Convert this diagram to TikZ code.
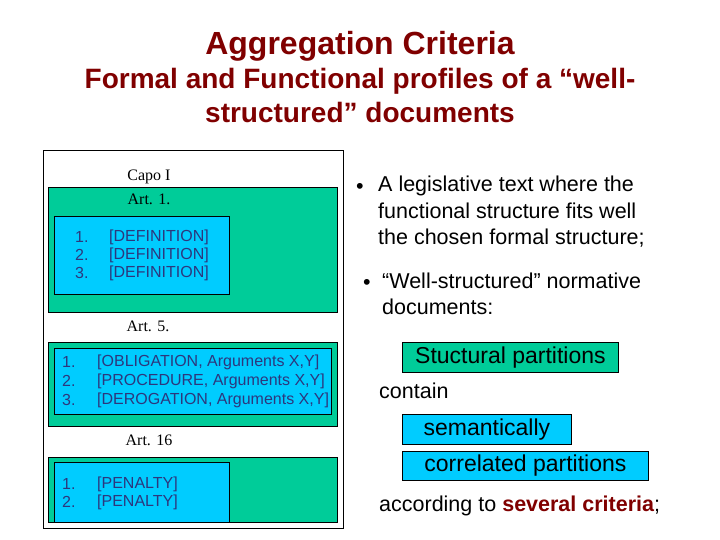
\documentclass[tikz,border=0pt]{standalone}
\usepackage{fontspec}
\setmainfont{Liberation Serif}
\setsansfont{Liberation Sans}
\usetikzlibrary{positioning}
\definecolor{titlered}{RGB}{128,0,0}
\definecolor{partgreen}{RGB}{0,204,153}
\definecolor{partblue}{RGB}{0,204,255}
\definecolor{itemblue}{RGB}{45,55,125}

\begin{document}
\begin{tikzpicture}[x=1pt,y=-1pt,
    part/.style={draw, line width=0.8pt, anchor=north west, inner sep=0pt},
    greenpart/.style={part, fill=partgreen},
    bluepart/.style={part, fill=partblue},
    item/.style={anchor=west, inner sep=0pt, text=itemblue,
      font=\sffamily\fontsize{16}{19}\selectfont},
    heading/.style={inner sep=0pt, font=\rmfamily\fontsize{16}{19}\selectfont},
    title/.style={inner sep=0pt, align=center, text=titlered},
    bodytext/.style={inner sep=0pt, font=\sffamily\fontsize{21.5}{26.5}\selectfont},
    tag/.style={draw, line width=0.8pt, anchor=north west, inner sep=0pt,
      font=\sffamily\fontsize{23}{26}\selectfont}]
  \useasboundingbox (0,0) rectangle (720,540);

  % title
  \node[title, font=\sffamily\bfseries\fontsize{32}{36}\selectfont] (title) at (360,46)
    {Aggregation Criteria};
  \node[title, font=\sffamily\bfseries\fontsize{28}{34}\selectfont] (subtitle) at (360,95.5)
    {Formal and Functional profiles of a “well-\\structured” documents};

  % document frame and partitions
  \node[part, line width=1pt, fill=white, minimum width=300, minimum height=378] (frame) at (43,150) {};
  \node[greenpart, minimum width=289, minimum height=125] (art1box) at (48,187) {};
  \node[bluepart, minimum width=175, minimum height=78] (def) at (54,216) {};
  \node[greenpart, minimum width=289, minimum height=84] (art5box) at (48,342) {};
  \node[bluepart, minimum width=277, minimum height=66] (args) at (54,348) {};
  \node[greenpart, minimum width=289, minimum height=65] (art16box) at (48,457) {};
  \node[bluepart, minimum width=175, minimum height=60] (pen) at (54,462) {};

  % headings
  \node[heading] (capo) at (149,177) {Capo I};
  \node[heading] (art1) at (149,199) {Art. 1.};
  \node[heading] (art5) at (148,326) {Art. 5.};
  \node[heading] (art16) at (149,440) {Art. 16};

  % items
  \foreach \n/\y in {1/237,2/255,3/273}
    {\node[item] (defnum\n) at (75,\y) {\n.}; \node[item] (def\n) at (109,\y) {[DEFINITION]};}
  \foreach \n/\y/\t in {1/362/OBLIGATION,2/381/PROCEDURE,3/400/DEROGATION}
    {\node[item] (argnum\n) at (62,\y) {\n.}; \node[item] (arg\n) at (97,\y) {[\t, Arguments X,Y]};}
  \foreach \n/\y in {1/484,2/502}
    {\node[item] (pennum\n) at (62,\y) {\n.}; \node[item] (pen\n) at (97,\y) {[PENALTY]};}

  % bullets
  \node[bodytext] (dot1) at (360,188) {•};
  \node[bodytext, anchor=north west, align=left] (legis) at (378,176)
    {A legislative text where the\\functional structure fits well\\the chosen formal structure;};
  \node[bodytext] (dot2) at (367,284) {•};
  \node[bodytext, anchor=north west, align=left] (wellstr) at (382,272.5)
    {“Well-structured” normative\\documents:};

  % partitions
  \node[tag, fill=partgreen, minimum width=216, minimum height=30] (stuct) at (402,342)
    {Stuctural partitions};
  \node[bodytext, anchor=west] (contain) at (379,391) {contain};
  \node[tag, fill=partblue, minimum width=169, minimum height=30] (sem) at (402,414)
    {semantically};
  \node[tag, fill=partblue, minimum width=246, minimum height=29] (corr) at (402,451)
    {correlated partitions};
  \node[bodytext, anchor=west] (criteria) at (379,506)
    {according to \textcolor{titlered}{\bfseries several criteria};};
\end{tikzpicture}
\end{document}
